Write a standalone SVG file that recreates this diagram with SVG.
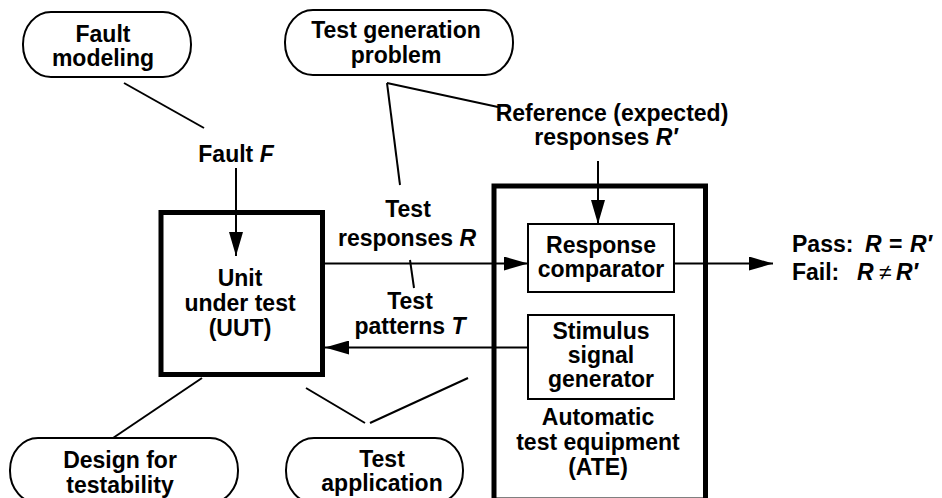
<svg xmlns="http://www.w3.org/2000/svg" width="942" height="498" viewBox="0 0 942 498">
<style>
.t{font-family:"Liberation Sans",Arial,Helvetica,sans-serif;font-weight:bold;font-size:23px;text-anchor:middle;fill:#000}
.l{text-anchor:start}
.i{font-style:italic}
.pill{fill:#fff;stroke:#000;stroke-width:2}
.thick{fill:#fff;stroke:#000;stroke-width:5}
.box{fill:#fff;stroke:#000;stroke-width:2}
.ln{fill:none;stroke:#000;stroke-width:2}
</style>
<defs>
<marker id="ah" markerUnits="userSpaceOnUse" markerWidth="24" markerHeight="14" refX="24" refY="7" orient="auto">
<path d="M0,0 L24,7 L0,14 z" fill="#000"/>
</marker>
</defs>
<rect width="942" height="498" fill="#fff"/>

<g id="fault-modeling">
<rect class="pill" x="23" y="12" width="168" height="65" rx="28" ry="32"/>
<text class="t" x="103" y="42">Fault</text>
<text class="t" x="103" y="66">modeling</text>
</g>

<g id="test-generation">
<rect class="pill" x="285" y="10" width="228" height="65" rx="28" ry="32"/>
<text class="t" x="396" y="38">Test generation</text>
<text class="t" x="396" y="63">problem</text>
</g>

<g id="ate">
<rect class="thick" x="494" y="186" width="211.5" height="314"/>
<text class="t" x="598" y="425">Automatic</text>
<text class="t" x="598" y="450">test equipment</text>
<text class="t" x="598" y="475">(ATE)</text>
</g>

<g id="uut">
<rect class="thick" x="161" y="212.5" width="161.5" height="162"/>
<text class="t" x="240" y="286">Unit</text>
<text class="t" x="240" y="311">under test</text>
<text class="t" x="240" y="336">(UUT)</text>
</g>

<g id="response-comparator">
<rect class="box" x="528" y="224" width="146" height="68"/>
<text class="t" x="601" y="253">Response</text>
<text class="t" x="601" y="277">comparator</text>
</g>

<g id="stimulus-generator">
<rect class="box" x="528" y="315" width="146" height="84"/>
<text class="t" x="601" y="339">Stimulus</text>
<text class="t" x="601" y="363">signal</text>
<text class="t" x="601" y="387">generator</text>
</g>

<g id="design-for-testability">
<rect class="pill" x="10" y="438" width="228" height="65" rx="28" ry="32"/>
<text class="t" x="120" y="468">Design for</text>
<text class="t" x="120" y="493">testability</text>
</g>

<g id="test-application">
<rect class="pill" x="286" y="438" width="177" height="65" rx="28" ry="32"/>
<text class="t" x="382" y="467">Test</text>
<text class="t" x="382" y="491">application</text>
</g>

<g id="connectors">
<line class="ln" x1="124" y1="83" x2="204" y2="128"/>
<line class="ln" x1="236" y1="168" x2="236" y2="256" marker-end="url(#ah)"/>
<line class="ln" x1="387" y1="83" x2="498" y2="107"/>
<line class="ln" x1="387" y1="83" x2="400" y2="185"/>
<line class="ln" x1="410" y1="260" x2="414" y2="288"/>
<line class="ln" x1="325" y1="263.5" x2="528" y2="263.5" marker-end="url(#ah)"/>
<line class="ln" x1="598" y1="161" x2="598" y2="224" marker-end="url(#ah)"/>
<line class="ln" x1="674" y1="263.5" x2="773" y2="263.5" marker-end="url(#ah)"/>
<line class="ln" x1="528" y1="347.5" x2="325" y2="347.5" marker-end="url(#ah)"/>
<line class="ln" x1="202" y1="378" x2="113" y2="438"/>
<line class="ln" x1="306" y1="388" x2="365" y2="423"/>
<line class="ln" x1="370" y1="423" x2="468" y2="378"/>
</g>

<g id="labels">
<text class="t" x="236" y="162">Fault <tspan class="i">F</tspan></text>
<text class="t" x="408" y="217">Test</text>
<text class="t" x="407" y="246">responses <tspan class="i">R</tspan></text>
<text class="t" x="410" y="309">Test</text>
<text class="t" x="410" y="334">patterns <tspan class="i">T</tspan></text>
<text class="t" x="612" y="121">Reference (expected)</text>
<text class="t" x="606" y="145">responses <tspan class="i">R′</tspan></text>
<text class="t l" x="792" y="252">Pass:<tspan class="i" x="865">R</tspan><tspan x="889">=</tspan><tspan class="i" x="910">R′</tspan></text>
<text class="t l" x="792" y="280">Fail:<tspan class="i" x="857">R</tspan><tspan x="879" font-weight="normal">≠</tspan><tspan class="i" x="896">R′</tspan></text>
</g>
</svg>
